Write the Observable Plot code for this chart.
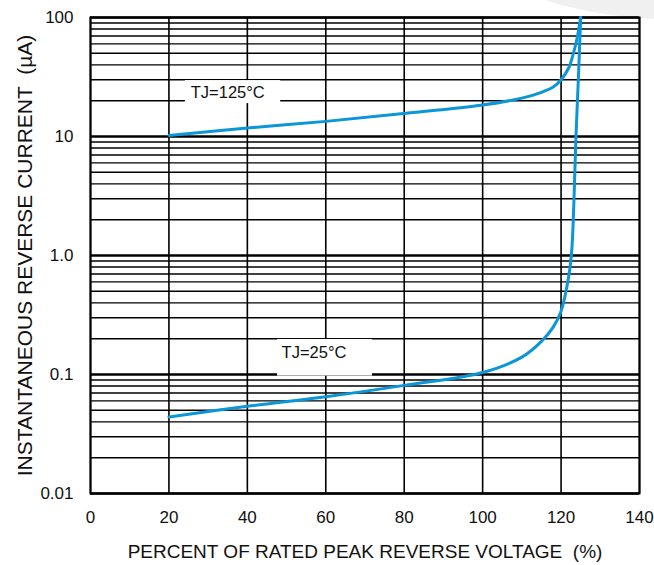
<!DOCTYPE html>
<html>
<head>
<meta charset="utf-8">
<script src="https://cdn.jsdelivr.net/npm/d3@7"></script>
<script src="https://cdn.jsdelivr.net/npm/@observablehq/plot@0.6"></script>
<style>
  html, body { margin: 0; padding: 0; background: white; overflow: hidden; }
  #wrap { position: relative; width: 654px; height: 565px; }
  #shade { position: absolute; left: 510px; top: -80px; width: 360px; height: 100px; border-radius: 50%; background: #f0f0f0; }
  #chart { position: absolute; left: 0; top: 0; }
</style>
</head>
<body>
<div id="wrap"><div id="shade"></div><div id="chart"></div></div>
<script>
// ---- data ----
const xTicks = [0, 20, 40, 60, 80, 100, 120, 140];
const yTickValues = [0.01, 0.1, 1, 10, 100];
const yTickLabels = ["0.01", "0.1", "1.0", "10", "100"];
const decadeStarts = [0.01, 0.1, 1, 10];
const minorMultipliers = [2, 3, 4, 5, 6, 7, 8, 9];

const tj125X = [20, 40, 60, 80, 100, 110, 115, 118, 120, 122, 123, 124, 125];
const tj125Y = [10.2, 11.8, 13.4, 15.6, 18.4, 21, 23.5, 26, 30, 38, 48, 65, 100];

const tj25X = [20, 40, 60, 80, 100, 110, 115, 118, 120, 121.5, 122.3, 122.8, 123.3, 123.8, 124.4, 125];
const tj25Y = [0.044, 0.054, 0.065, 0.081, 0.104, 0.14, 0.19, 0.25, 0.34, 0.55, 0.8, 1.2, 3, 10, 30, 100];

const labelText = ["TJ=125°C", "TJ=25°C"];
const labelX = [35, 57];
const labelY = [23.4, 0.153];
const boxX1 = [24.2, 47.7];
const boxX2 = [48.5, 71.9];
const boxY1 = [18.9, 0.097];
const boxY2 = [29.5, 0.197];

const xTitle = "PERCENT OF RATED PEAK REVERSE VOLTAGE \u00a0(%)";
const yTitle = "INSTANTANEOUS REVERSE CURRENT \u00a0(\u00b5A)";

// ---- derived tables ----
const minorGrid = decadeStarts.flatMap(d => minorMultipliers.map(m => d * m));
const curve125 = tj125X.map((x, i) => ({x, y: tj125Y[i]}));
const curve25 = tj25X.map((x, i) => ({x, y: tj25Y[i]}));
const labels = labelText.map((t, i) => ({t, x: labelX[i], y: labelY[i], x1: boxX1[i], x2: boxX2[i], y1: boxY1[i], y2: boxY2[i]}));

const blue = "#0a96d8";

const chart = Plot.plot({
  width: 654,
  height: 565,
  marginLeft: 90,
  marginRight: 15,
  marginTop: 17,
  marginBottom: 72,
  style: { fontFamily: "'Liberation Sans', Arial, sans-serif", fontSize: "16px", color: "#111", background: "transparent" },
  x: { domain: [0, 140] },
  y: { type: "log", domain: [0.01, 100] },
  marks: [
    Plot.ruleY(minorGrid, { stroke: "#000", strokeWidth: 1.4 }),
    Plot.ruleY(yTickValues, { stroke: "#000", strokeWidth: 2.6 }),
    Plot.ruleX(xTicks, { stroke: "#000", strokeWidth: 1.6 }),
    Plot.frame({ stroke: "#000", strokeWidth: 2 }),
    Plot.rect(labels, { x1: "x1", x2: "x2", y1: "y1", y2: "y2", fill: "white" }),
    Plot.text(labels, { x: "x", y: "y", text: "t", fontSize: 16.5, fill: "#111" }),
    Plot.line(curve125, { x: "x", y: "y", stroke: blue, strokeWidth: 3, curve: "catmull-rom" }),
    Plot.line(curve25, { x: "x", y: "y", stroke: blue, strokeWidth: 3, curve: "catmull-rom" }),
    Plot.axisX(xTicks, { tickSize: 0, tickPadding: 17, fontSize: 17, label: null }),
    Plot.axisX({ ticks: [], tickSize: 0, fontSize: 19, label: xTitle, labelAnchor: "center", labelOffset: 64, labelArrow: "none" }),
    Plot.axisY(yTickValues, { tickSize: 0, tickPadding: 17, fontSize: 17, tickFormat: d => yTickLabels[yTickValues.indexOf(d)], label: null }),
    Plot.axisY({ ticks: [], tickSize: 0, fontSize: 21, label: yTitle, labelAnchor: "center", labelOffset: 73, labelArrow: "none" })
  ]
});
document.getElementById("chart").appendChild(chart);
</script>
</body>
</html>
